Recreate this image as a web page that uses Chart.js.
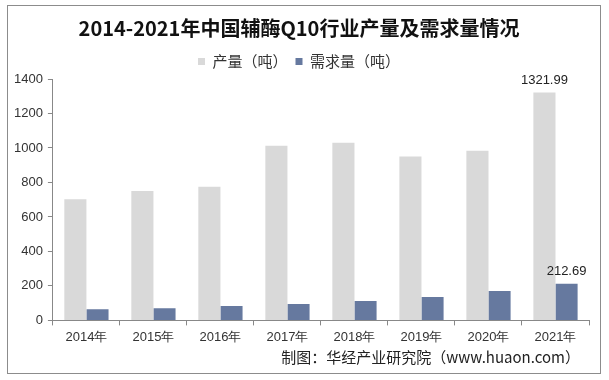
<!DOCTYPE html>
<html><head><meta charset="utf-8">
<script src="https://cdn.jsdelivr.net/npm/chart.js@4"></script>
<style>html,body{margin:0;padding:0;background:#fff}#wrap{width:609px;height:380px}</style>
</head><body><div id="wrap"><canvas id="c" width="609" height="380"></canvas></div>
<script>
const categories = ['2014年','2015年','2016年','2017年','2018年','2019年','2020年','2021年'];
const production = [703, 750, 775, 1013, 1030, 950, 984, 1321.99];
const demand = [64, 70, 83, 95, 112, 135, 170, 212.69];
const seriesNames = ['产量（吨）','需求量（吨）'];
const yTicks = [0,200,400,600,800,1000,1200,1400];
const labeledIndex = 7;

const framePlugin = {
  id: 'frame',
  afterDraw(chart) {
    const ctx = chart.ctx;
    ctx.save();
    ctx.strokeStyle = '#8c8c8c';
    ctx.lineWidth = 1;
    ctx.strokeRect(7.5, 5.5, 593, 368);
    ctx.fillStyle = '#222';
    ctx.font = '15px "Noto Sans CJK SC", sans-serif';
    ctx.textAlign = 'right';
    ctx.textBaseline = 'middle';
    ctx.fillText('制图：华经产业研究院（www.huaon.com）', 580, 357);
    // value labels
    ctx.font = '13px "Liberation Sans", Arial, sans-serif';
    ctx.textAlign = 'center';
    ctx.textBaseline = 'bottom';
    ctx.fillStyle = '#222';
    chart.data.datasets.forEach((ds, di) => {
      const meta = chart.getDatasetMeta(di);
      const el = meta.data[labeledIndex];
      ctx.fillText(ds.data[labeledIndex].toFixed(2), el.x, el.y - 6);
    });
    ctx.restore();
  }
};

new Chart(document.getElementById('c'), {
  type: 'bar',
  data: {
    labels: categories,
    datasets: [
      { label: seriesNames[0], data: production, backgroundColor: '#d9d9d9' },
      { label: seriesNames[1], data: demand, backgroundColor: '#66799f' }
    ]
  },
  options: {
    responsive: false,
    animation: false,
    devicePixelRatio: 1,
    layout: { padding: { left: 9, right: 20, top: 12, bottom: 31 } },
    datasets: { bar: { barPercentage: 1, categoryPercentage: 0.66 } },
    plugins: {
      title: {
        display: true,
        text: '2014-2021年中国辅酶Q10行业产量及需求量情况',
        color: '#111',
        font: { family: '"Noto Sans CJK SC", sans-serif', size: 20, weight: 'bold' },
        padding: { top: 4, bottom: 6 }
      },
      legend: {
        display: true,
        position: 'top',
        labels: {
          boxWidth: 7, boxHeight: 7, color: '#333',
          font: { family: '"Noto Sans CJK SC", sans-serif', size: 15 },
          padding: 8
        }
      },
      tooltip: { enabled: false }
    },
    scales: {
      x: {
        grid: { display: true, drawOnChartArea: false, drawTicks: true, tickLength: 5, color: '#888', offset: true },
        border: { display: true, color: '#888' },
        ticks: { color: '#333', padding: 4, font: { family: '"Liberation Sans", Arial, sans-serif', size: 13 } }
      },
      y: {
        min: 0, max: 1400,
        afterBuildTicks(axis) { axis.ticks = yTicks.map(v => ({ value: v })); },
        grid: { display: true, drawOnChartArea: false, drawTicks: true, tickLength: 5, color: '#888' },
        border: { display: true, color: '#888' },
        ticks: { color: '#333', padding: 5, callback: v => String(v), font: { family: '"Liberation Sans", Arial, sans-serif', size: 13 } }
      }
    }
  },
  plugins: [framePlugin]
});
</script></body></html>
